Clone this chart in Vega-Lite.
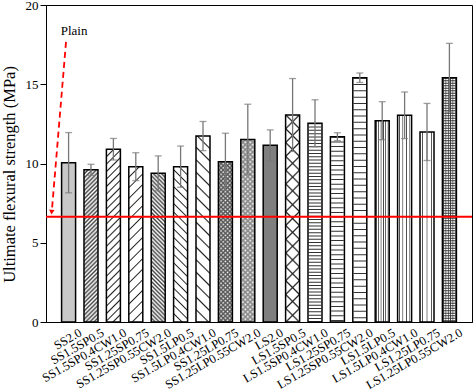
{
"$schema":"https://vega.github.io/schema/vega-lite/v6.json",
"width":426,"height":317,"autosize":"none",
"padding":{"left":46,"top":5,"right":1,"bottom":69},
"datasets":{"bars":[
{"name":"SS2.0","value":10.05,"err":1.9},
{"name":"SS1.5SP0.5","value":9.6,"err":0.35},
{"name":"SS1.5SP0.4CW1.0","value":10.9,"err":0.68},
{"name":"SS1.25SP0.75","value":9.8,"err":0.88},
{"name":"SS1.25SP0.55CW2.0","value":9.38,"err":1.1},
{"name":"SS1.5LP0.5","value":9.8,"err":1.3},
{"name":"SS1.5LP0.4CW1.0","value":11.73,"err":0.92},
{"name":"SS1.25LP0.75","value":10.11,"err":1.8},
{"name":"SS1.25LP0.55CW2.0","value":11.52,"err":2.22},
{"name":"LS2.0","value":11.15,"err":0.97},
{"name":"LS1.5SP0.5","value":13.06,"err":2.3},
{"name":"LS1.5SP0.4CW1.0","value":12.54,"err":1.48},
{"name":"LS1.25SP0.75","value":11.69,"err":0.25},
{"name":"LS1.25SP0.55CW2.0","value":15.41,"err":0.3},
{"name":"LS1.5LP0.5","value":12.7,"err":1.2},
{"name":"LS1.5LP0.4CW1.0","value":13.04,"err":1.47},
{"name":"LS1.25LP0.75","value":11.99,"err":1.8},
{"name":"LS1.25LP0.55CW2.0","value":15.41,"err":2.17}
]},
"config":{
"font":"Liberation Serif",
"view":{"stroke":"black","strokeWidth":1},
"axis":{"labelFont":"Liberation Serif","titleFont":"Liberation Serif","domainColor":"black","tickColor":"black","labelColor":"black","titleColor":"black","grid":false,"titleFontWeight":"normal"}
},
"layer":[
{"data":{"name":"bars"},
"layer":[
{"mark":{"type":"bar"},
"encoding":{
"x":{"field":"name","type":"nominal","sort":null,"scale":{"paddingInner":0.375,"paddingOuter":0.696},"axis":{"title":null,"labelAngle":-30,"labelFontSize":12.5,"ticks":false,"labelPadding":4,"labelOffset":9}},
"y":{"field":"value","type":"quantitative","scale":{"domain":[0,20],"nice":false},"axis":{"title":"Ultimate flexural strength (MPa)","values":[0,5,10,15,20],"labelFontSize":13,"titleFontSize":16.5,"tickSize":6,"labelPadding":2,"titlePadding":8,"titleY":169}},
"fill":{"condition":[
{"test":"datum.name==='SS2.0'","value":"#c8c8c8"},
{"test":"datum.name==='LS2.0'","value":"#7f7f7f"},
{"test":"datum.name==='SS1.5SP0.5'","value":{"gradient":"linear","x1":0,"y1":0,"x2":0.0996,"y2":1.083,"stops":[{"offset":0,"color":"#444"},{"offset":0.0125,"color":"#fff"},{"offset":0.025,"color":"#444"},{"offset":0.0375,"color":"#fff"},{"offset":0.05,"color":"#444"},{"offset":0.0625,"color":"#fff"},{"offset":0.075,"color":"#444"},{"offset":0.0875,"color":"#fff"},{"offset":0.1,"color":"#444"},{"offset":0.1125,"color":"#fff"},{"offset":0.125,"color":"#444"},{"offset":0.1375,"color":"#fff"},{"offset":0.15,"color":"#444"},{"offset":0.1625,"color":"#fff"},{"offset":0.175,"color":"#444"},{"offset":0.1875,"color":"#fff"},{"offset":0.2,"color":"#444"},{"offset":0.2125,"color":"#fff"},{"offset":0.225,"color":"#444"},{"offset":0.2375,"color":"#fff"},{"offset":0.25,"color":"#444"},{"offset":0.2625,"color":"#fff"},{"offset":0.275,"color":"#444"},{"offset":0.2875,"color":"#fff"},{"offset":0.3,"color":"#444"},{"offset":0.3125,"color":"#fff"},{"offset":0.325,"color":"#444"},{"offset":0.3375,"color":"#fff"},{"offset":0.35,"color":"#444"},{"offset":0.3625,"color":"#fff"},{"offset":0.375,"color":"#444"},{"offset":0.3875,"color":"#fff"},{"offset":0.4,"color":"#444"},{"offset":0.4125,"color":"#fff"},{"offset":0.425,"color":"#444"},{"offset":0.4375,"color":"#fff"},{"offset":0.45,"color":"#444"},{"offset":0.4625,"color":"#fff"},{"offset":0.475,"color":"#444"},{"offset":0.4875,"color":"#fff"},{"offset":0.5,"color":"#444"},{"offset":0.5125,"color":"#fff"},{"offset":0.525,"color":"#444"},{"offset":0.5375,"color":"#fff"},{"offset":0.55,"color":"#444"},{"offset":0.5625,"color":"#fff"},{"offset":0.575,"color":"#444"},{"offset":0.5875,"color":"#fff"},{"offset":0.6,"color":"#444"},{"offset":0.6125,"color":"#fff"},{"offset":0.625,"color":"#444"},{"offset":0.6375,"color":"#fff"},{"offset":0.65,"color":"#444"},{"offset":0.6625,"color":"#fff"},{"offset":0.675,"color":"#444"},{"offset":0.6875,"color":"#fff"},{"offset":0.7,"color":"#444"},{"offset":0.7125,"color":"#fff"},{"offset":0.725,"color":"#444"},{"offset":0.7375,"color":"#fff"},{"offset":0.75,"color":"#444"},{"offset":0.7625,"color":"#fff"},{"offset":0.775,"color":"#444"},{"offset":0.7875,"color":"#fff"},{"offset":0.8,"color":"#444"},{"offset":0.8125,"color":"#fff"},{"offset":0.825,"color":"#444"},{"offset":0.8375,"color":"#fff"},{"offset":0.85,"color":"#444"},{"offset":0.8625,"color":"#fff"},{"offset":0.875,"color":"#444"},{"offset":0.8875,"color":"#fff"},{"offset":0.9,"color":"#444"},{"offset":0.9125,"color":"#fff"},{"offset":0.925,"color":"#444"},{"offset":0.9375,"color":"#fff"},{"offset":0.95,"color":"#444"},{"offset":0.9625,"color":"#fff"},{"offset":0.975,"color":"#444"},{"offset":0.9875,"color":"#fff"},{"offset":1,"color":"#444"}]}},
{"test":"datum.name==='SS1.5SP0.4CW1.0'","value":{"gradient":"linear","x1":0,"y1":0,"x2":0.087,"y2":1.074,"stops":[{"offset":0,"color":"#222"},{"offset":0.008,"color":"#fff"},{"offset":0.032,"color":"#fff"},{"offset":0.04,"color":"#222"},{"offset":0.048,"color":"#fff"},{"offset":0.072,"color":"#fff"},{"offset":0.08,"color":"#222"},{"offset":0.088,"color":"#fff"},{"offset":0.112,"color":"#fff"},{"offset":0.12,"color":"#222"},{"offset":0.128,"color":"#fff"},{"offset":0.152,"color":"#fff"},{"offset":0.16,"color":"#222"},{"offset":0.168,"color":"#fff"},{"offset":0.192,"color":"#fff"},{"offset":0.2,"color":"#222"},{"offset":0.208,"color":"#fff"},{"offset":0.232,"color":"#fff"},{"offset":0.24,"color":"#222"},{"offset":0.248,"color":"#fff"},{"offset":0.272,"color":"#fff"},{"offset":0.28,"color":"#222"},{"offset":0.288,"color":"#fff"},{"offset":0.312,"color":"#fff"},{"offset":0.32,"color":"#222"},{"offset":0.328,"color":"#fff"},{"offset":0.352,"color":"#fff"},{"offset":0.36,"color":"#222"},{"offset":0.368,"color":"#fff"},{"offset":0.392,"color":"#fff"},{"offset":0.4,"color":"#222"},{"offset":0.408,"color":"#fff"},{"offset":0.432,"color":"#fff"},{"offset":0.44,"color":"#222"},{"offset":0.448,"color":"#fff"},{"offset":0.472,"color":"#fff"},{"offset":0.48,"color":"#222"},{"offset":0.488,"color":"#fff"},{"offset":0.512,"color":"#fff"},{"offset":0.52,"color":"#222"},{"offset":0.528,"color":"#fff"},{"offset":0.552,"color":"#fff"},{"offset":0.56,"color":"#222"},{"offset":0.568,"color":"#fff"},{"offset":0.592,"color":"#fff"},{"offset":0.6,"color":"#222"},{"offset":0.608,"color":"#fff"},{"offset":0.632,"color":"#fff"},{"offset":0.64,"color":"#222"},{"offset":0.648,"color":"#fff"},{"offset":0.672,"color":"#fff"},{"offset":0.68,"color":"#222"},{"offset":0.688,"color":"#fff"},{"offset":0.712,"color":"#fff"},{"offset":0.72,"color":"#222"},{"offset":0.728,"color":"#fff"},{"offset":0.752,"color":"#fff"},{"offset":0.76,"color":"#222"},{"offset":0.768,"color":"#fff"},{"offset":0.792,"color":"#fff"},{"offset":0.8,"color":"#222"},{"offset":0.808,"color":"#fff"},{"offset":0.832,"color":"#fff"},{"offset":0.84,"color":"#222"},{"offset":0.848,"color":"#fff"},{"offset":0.872,"color":"#fff"},{"offset":0.88,"color":"#222"},{"offset":0.888,"color":"#fff"},{"offset":0.912,"color":"#fff"},{"offset":0.92,"color":"#222"},{"offset":0.928,"color":"#fff"},{"offset":0.952,"color":"#fff"},{"offset":0.96,"color":"#222"},{"offset":0.968,"color":"#fff"},{"offset":0.992,"color":"#fff"},{"offset":1,"color":"#222"}]}},
{"test":"datum.name==='SS1.25SP0.75'","value":{"gradient":"linear","x1":0,"y1":0,"x2":0.0973,"y2":1.081,"stops":[{"offset":0,"color":"#222"},{"offset":0.008,"color":"#fff"},{"offset":0.0545,"color":"#fff"},{"offset":0.0625,"color":"#222"},{"offset":0.0705,"color":"#fff"},{"offset":0.117,"color":"#fff"},{"offset":0.125,"color":"#222"},{"offset":0.133,"color":"#fff"},{"offset":0.1795,"color":"#fff"},{"offset":0.1875,"color":"#222"},{"offset":0.1955,"color":"#fff"},{"offset":0.242,"color":"#fff"},{"offset":0.25,"color":"#222"},{"offset":0.258,"color":"#fff"},{"offset":0.3045,"color":"#fff"},{"offset":0.3125,"color":"#222"},{"offset":0.3205,"color":"#fff"},{"offset":0.367,"color":"#fff"},{"offset":0.375,"color":"#222"},{"offset":0.383,"color":"#fff"},{"offset":0.4295,"color":"#fff"},{"offset":0.4375,"color":"#222"},{"offset":0.4455,"color":"#fff"},{"offset":0.492,"color":"#fff"},{"offset":0.5,"color":"#222"},{"offset":0.508,"color":"#fff"},{"offset":0.5545,"color":"#fff"},{"offset":0.5625,"color":"#222"},{"offset":0.5705,"color":"#fff"},{"offset":0.617,"color":"#fff"},{"offset":0.625,"color":"#222"},{"offset":0.633,"color":"#fff"},{"offset":0.6795,"color":"#fff"},{"offset":0.6875,"color":"#222"},{"offset":0.6955,"color":"#fff"},{"offset":0.742,"color":"#fff"},{"offset":0.75,"color":"#222"},{"offset":0.758,"color":"#fff"},{"offset":0.8045,"color":"#fff"},{"offset":0.8125,"color":"#222"},{"offset":0.8205,"color":"#fff"},{"offset":0.867,"color":"#fff"},{"offset":0.875,"color":"#222"},{"offset":0.883,"color":"#fff"},{"offset":0.9295,"color":"#fff"},{"offset":0.9375,"color":"#222"},{"offset":0.9455,"color":"#fff"},{"offset":0.992,"color":"#fff"},{"offset":1,"color":"#222"}]}},
{"test":"datum.name==='SS1.25SP0.55CW2.0'","value":{"gradient":"linear","x1":1,"y1":0,"x2":0.898,"y2":1.084,"stops":[{"offset":0,"color":"#444"},{"offset":0.0125,"color":"#fff"},{"offset":0.025,"color":"#444"},{"offset":0.0375,"color":"#fff"},{"offset":0.05,"color":"#444"},{"offset":0.0625,"color":"#fff"},{"offset":0.075,"color":"#444"},{"offset":0.0875,"color":"#fff"},{"offset":0.1,"color":"#444"},{"offset":0.1125,"color":"#fff"},{"offset":0.125,"color":"#444"},{"offset":0.1375,"color":"#fff"},{"offset":0.15,"color":"#444"},{"offset":0.1625,"color":"#fff"},{"offset":0.175,"color":"#444"},{"offset":0.1875,"color":"#fff"},{"offset":0.2,"color":"#444"},{"offset":0.2125,"color":"#fff"},{"offset":0.225,"color":"#444"},{"offset":0.2375,"color":"#fff"},{"offset":0.25,"color":"#444"},{"offset":0.2625,"color":"#fff"},{"offset":0.275,"color":"#444"},{"offset":0.2875,"color":"#fff"},{"offset":0.3,"color":"#444"},{"offset":0.3125,"color":"#fff"},{"offset":0.325,"color":"#444"},{"offset":0.3375,"color":"#fff"},{"offset":0.35,"color":"#444"},{"offset":0.3625,"color":"#fff"},{"offset":0.375,"color":"#444"},{"offset":0.3875,"color":"#fff"},{"offset":0.4,"color":"#444"},{"offset":0.4125,"color":"#fff"},{"offset":0.425,"color":"#444"},{"offset":0.4375,"color":"#fff"},{"offset":0.45,"color":"#444"},{"offset":0.4625,"color":"#fff"},{"offset":0.475,"color":"#444"},{"offset":0.4875,"color":"#fff"},{"offset":0.5,"color":"#444"},{"offset":0.5125,"color":"#fff"},{"offset":0.525,"color":"#444"},{"offset":0.5375,"color":"#fff"},{"offset":0.55,"color":"#444"},{"offset":0.5625,"color":"#fff"},{"offset":0.575,"color":"#444"},{"offset":0.5875,"color":"#fff"},{"offset":0.6,"color":"#444"},{"offset":0.6125,"color":"#fff"},{"offset":0.625,"color":"#444"},{"offset":0.6375,"color":"#fff"},{"offset":0.65,"color":"#444"},{"offset":0.6625,"color":"#fff"},{"offset":0.675,"color":"#444"},{"offset":0.6875,"color":"#fff"},{"offset":0.7,"color":"#444"},{"offset":0.7125,"color":"#fff"},{"offset":0.725,"color":"#444"},{"offset":0.7375,"color":"#fff"},{"offset":0.75,"color":"#444"},{"offset":0.7625,"color":"#fff"},{"offset":0.775,"color":"#444"},{"offset":0.7875,"color":"#fff"},{"offset":0.8,"color":"#444"},{"offset":0.8125,"color":"#fff"},{"offset":0.825,"color":"#444"},{"offset":0.8375,"color":"#fff"},{"offset":0.85,"color":"#444"},{"offset":0.8625,"color":"#fff"},{"offset":0.875,"color":"#444"},{"offset":0.8875,"color":"#fff"},{"offset":0.9,"color":"#444"},{"offset":0.9125,"color":"#fff"},{"offset":0.925,"color":"#444"},{"offset":0.9375,"color":"#fff"},{"offset":0.95,"color":"#444"},{"offset":0.9625,"color":"#fff"},{"offset":0.975,"color":"#444"},{"offset":0.9875,"color":"#fff"},{"offset":1,"color":"#444"}]}},
{"test":"datum.name==='SS1.5LP0.5'","value":{"gradient":"linear","x1":1,"y1":0,"x2":0.903,"y2":1.081,"stops":[{"offset":0,"color":"#222"},{"offset":0.008,"color":"#fff"},{"offset":0.042,"color":"#fff"},{"offset":0.05,"color":"#222"},{"offset":0.058,"color":"#fff"},{"offset":0.092,"color":"#fff"},{"offset":0.1,"color":"#222"},{"offset":0.108,"color":"#fff"},{"offset":0.142,"color":"#fff"},{"offset":0.15,"color":"#222"},{"offset":0.158,"color":"#fff"},{"offset":0.192,"color":"#fff"},{"offset":0.2,"color":"#222"},{"offset":0.208,"color":"#fff"},{"offset":0.242,"color":"#fff"},{"offset":0.25,"color":"#222"},{"offset":0.258,"color":"#fff"},{"offset":0.292,"color":"#fff"},{"offset":0.3,"color":"#222"},{"offset":0.308,"color":"#fff"},{"offset":0.342,"color":"#fff"},{"offset":0.35,"color":"#222"},{"offset":0.358,"color":"#fff"},{"offset":0.392,"color":"#fff"},{"offset":0.4,"color":"#222"},{"offset":0.408,"color":"#fff"},{"offset":0.442,"color":"#fff"},{"offset":0.45,"color":"#222"},{"offset":0.458,"color":"#fff"},{"offset":0.492,"color":"#fff"},{"offset":0.5,"color":"#222"},{"offset":0.508,"color":"#fff"},{"offset":0.542,"color":"#fff"},{"offset":0.55,"color":"#222"},{"offset":0.558,"color":"#fff"},{"offset":0.592,"color":"#fff"},{"offset":0.6,"color":"#222"},{"offset":0.608,"color":"#fff"},{"offset":0.642,"color":"#fff"},{"offset":0.65,"color":"#222"},{"offset":0.658,"color":"#fff"},{"offset":0.692,"color":"#fff"},{"offset":0.7,"color":"#222"},{"offset":0.708,"color":"#fff"},{"offset":0.742,"color":"#fff"},{"offset":0.75,"color":"#222"},{"offset":0.758,"color":"#fff"},{"offset":0.792,"color":"#fff"},{"offset":0.8,"color":"#222"},{"offset":0.808,"color":"#fff"},{"offset":0.842,"color":"#fff"},{"offset":0.85,"color":"#222"},{"offset":0.858,"color":"#fff"},{"offset":0.892,"color":"#fff"},{"offset":0.9,"color":"#222"},{"offset":0.908,"color":"#fff"},{"offset":0.942,"color":"#fff"},{"offset":0.95,"color":"#222"},{"offset":0.958,"color":"#fff"},{"offset":0.992,"color":"#fff"},{"offset":1,"color":"#222"}]}},
{"test":"datum.name==='SS1.5LP0.4CW1.0'","value":{"gradient":"linear","x1":1,"y1":0,"x2":0.92,"y2":1.069,"stops":[{"offset":0,"color":"#222"},{"offset":0.008,"color":"#fff"},{"offset":0.0545,"color":"#fff"},{"offset":0.0625,"color":"#222"},{"offset":0.0705,"color":"#fff"},{"offset":0.117,"color":"#fff"},{"offset":0.125,"color":"#222"},{"offset":0.133,"color":"#fff"},{"offset":0.1795,"color":"#fff"},{"offset":0.1875,"color":"#222"},{"offset":0.1955,"color":"#fff"},{"offset":0.242,"color":"#fff"},{"offset":0.25,"color":"#222"},{"offset":0.258,"color":"#fff"},{"offset":0.3045,"color":"#fff"},{"offset":0.3125,"color":"#222"},{"offset":0.3205,"color":"#fff"},{"offset":0.367,"color":"#fff"},{"offset":0.375,"color":"#222"},{"offset":0.383,"color":"#fff"},{"offset":0.4295,"color":"#fff"},{"offset":0.4375,"color":"#222"},{"offset":0.4455,"color":"#fff"},{"offset":0.492,"color":"#fff"},{"offset":0.5,"color":"#222"},{"offset":0.508,"color":"#fff"},{"offset":0.5545,"color":"#fff"},{"offset":0.5625,"color":"#222"},{"offset":0.5705,"color":"#fff"},{"offset":0.617,"color":"#fff"},{"offset":0.625,"color":"#222"},{"offset":0.633,"color":"#fff"},{"offset":0.6795,"color":"#fff"},{"offset":0.6875,"color":"#222"},{"offset":0.6955,"color":"#fff"},{"offset":0.742,"color":"#fff"},{"offset":0.75,"color":"#222"},{"offset":0.758,"color":"#fff"},{"offset":0.8045,"color":"#fff"},{"offset":0.8125,"color":"#222"},{"offset":0.8205,"color":"#fff"},{"offset":0.867,"color":"#fff"},{"offset":0.875,"color":"#222"},{"offset":0.883,"color":"#fff"},{"offset":0.9295,"color":"#fff"},{"offset":0.9375,"color":"#222"},{"offset":0.9455,"color":"#fff"},{"offset":0.992,"color":"#fff"},{"offset":1,"color":"#222"}]}},
{"test":"datum.name==='SS1.25LP0.75'","value":{"gradient":"linear","x1":0,"y1":0,"x2":0.0939,"y2":1.079,"stops":[{"offset":0,"color":"#555"},{"offset":0.0125,"color":"#fff"},{"offset":0.025,"color":"#555"},{"offset":0.0375,"color":"#fff"},{"offset":0.05,"color":"#555"},{"offset":0.0625,"color":"#fff"},{"offset":0.075,"color":"#555"},{"offset":0.0875,"color":"#fff"},{"offset":0.1,"color":"#555"},{"offset":0.1125,"color":"#fff"},{"offset":0.125,"color":"#555"},{"offset":0.1375,"color":"#fff"},{"offset":0.15,"color":"#555"},{"offset":0.1625,"color":"#fff"},{"offset":0.175,"color":"#555"},{"offset":0.1875,"color":"#fff"},{"offset":0.2,"color":"#555"},{"offset":0.2125,"color":"#fff"},{"offset":0.225,"color":"#555"},{"offset":0.2375,"color":"#fff"},{"offset":0.25,"color":"#555"},{"offset":0.2625,"color":"#fff"},{"offset":0.275,"color":"#555"},{"offset":0.2875,"color":"#fff"},{"offset":0.3,"color":"#555"},{"offset":0.3125,"color":"#fff"},{"offset":0.325,"color":"#555"},{"offset":0.3375,"color":"#fff"},{"offset":0.35,"color":"#555"},{"offset":0.3625,"color":"#fff"},{"offset":0.375,"color":"#555"},{"offset":0.3875,"color":"#fff"},{"offset":0.4,"color":"#555"},{"offset":0.4125,"color":"#fff"},{"offset":0.425,"color":"#555"},{"offset":0.4375,"color":"#fff"},{"offset":0.45,"color":"#555"},{"offset":0.4625,"color":"#fff"},{"offset":0.475,"color":"#555"},{"offset":0.4875,"color":"#fff"},{"offset":0.5,"color":"#555"},{"offset":0.5125,"color":"#fff"},{"offset":0.525,"color":"#555"},{"offset":0.5375,"color":"#fff"},{"offset":0.55,"color":"#555"},{"offset":0.5625,"color":"#fff"},{"offset":0.575,"color":"#555"},{"offset":0.5875,"color":"#fff"},{"offset":0.6,"color":"#555"},{"offset":0.6125,"color":"#fff"},{"offset":0.625,"color":"#555"},{"offset":0.6375,"color":"#fff"},{"offset":0.65,"color":"#555"},{"offset":0.6625,"color":"#fff"},{"offset":0.675,"color":"#555"},{"offset":0.6875,"color":"#fff"},{"offset":0.7,"color":"#555"},{"offset":0.7125,"color":"#fff"},{"offset":0.725,"color":"#555"},{"offset":0.7375,"color":"#fff"},{"offset":0.75,"color":"#555"},{"offset":0.7625,"color":"#fff"},{"offset":0.775,"color":"#555"},{"offset":0.7875,"color":"#fff"},{"offset":0.8,"color":"#555"},{"offset":0.8125,"color":"#fff"},{"offset":0.825,"color":"#555"},{"offset":0.8375,"color":"#fff"},{"offset":0.85,"color":"#555"},{"offset":0.8625,"color":"#fff"},{"offset":0.875,"color":"#555"},{"offset":0.8875,"color":"#fff"},{"offset":0.9,"color":"#555"},{"offset":0.9125,"color":"#fff"},{"offset":0.925,"color":"#555"},{"offset":0.9375,"color":"#fff"},{"offset":0.95,"color":"#555"},{"offset":0.9625,"color":"#fff"},{"offset":0.975,"color":"#555"},{"offset":0.9875,"color":"#fff"},{"offset":1,"color":"#555"}]}},
{"test":"datum.name==='SS1.25LP0.55CW2.0'","value":{"gradient":"linear","x1":0,"y1":0,"x2":0.0824,"y2":1.071,"stops":[{"offset":0,"color":"#888"},{"offset":0.0125,"color":"#fff"},{"offset":0.025,"color":"#888"},{"offset":0.0375,"color":"#fff"},{"offset":0.05,"color":"#888"},{"offset":0.0625,"color":"#fff"},{"offset":0.075,"color":"#888"},{"offset":0.0875,"color":"#fff"},{"offset":0.1,"color":"#888"},{"offset":0.1125,"color":"#fff"},{"offset":0.125,"color":"#888"},{"offset":0.1375,"color":"#fff"},{"offset":0.15,"color":"#888"},{"offset":0.1625,"color":"#fff"},{"offset":0.175,"color":"#888"},{"offset":0.1875,"color":"#fff"},{"offset":0.2,"color":"#888"},{"offset":0.2125,"color":"#fff"},{"offset":0.225,"color":"#888"},{"offset":0.2375,"color":"#fff"},{"offset":0.25,"color":"#888"},{"offset":0.2625,"color":"#fff"},{"offset":0.275,"color":"#888"},{"offset":0.2875,"color":"#fff"},{"offset":0.3,"color":"#888"},{"offset":0.3125,"color":"#fff"},{"offset":0.325,"color":"#888"},{"offset":0.3375,"color":"#fff"},{"offset":0.35,"color":"#888"},{"offset":0.3625,"color":"#fff"},{"offset":0.375,"color":"#888"},{"offset":0.3875,"color":"#fff"},{"offset":0.4,"color":"#888"},{"offset":0.4125,"color":"#fff"},{"offset":0.425,"color":"#888"},{"offset":0.4375,"color":"#fff"},{"offset":0.45,"color":"#888"},{"offset":0.4625,"color":"#fff"},{"offset":0.475,"color":"#888"},{"offset":0.4875,"color":"#fff"},{"offset":0.5,"color":"#888"},{"offset":0.5125,"color":"#fff"},{"offset":0.525,"color":"#888"},{"offset":0.5375,"color":"#fff"},{"offset":0.55,"color":"#888"},{"offset":0.5625,"color":"#fff"},{"offset":0.575,"color":"#888"},{"offset":0.5875,"color":"#fff"},{"offset":0.6,"color":"#888"},{"offset":0.6125,"color":"#fff"},{"offset":0.625,"color":"#888"},{"offset":0.6375,"color":"#fff"},{"offset":0.65,"color":"#888"},{"offset":0.6625,"color":"#fff"},{"offset":0.675,"color":"#888"},{"offset":0.6875,"color":"#fff"},{"offset":0.7,"color":"#888"},{"offset":0.7125,"color":"#fff"},{"offset":0.725,"color":"#888"},{"offset":0.7375,"color":"#fff"},{"offset":0.75,"color":"#888"},{"offset":0.7625,"color":"#fff"},{"offset":0.775,"color":"#888"},{"offset":0.7875,"color":"#fff"},{"offset":0.8,"color":"#888"},{"offset":0.8125,"color":"#fff"},{"offset":0.825,"color":"#888"},{"offset":0.8375,"color":"#fff"},{"offset":0.85,"color":"#888"},{"offset":0.8625,"color":"#fff"},{"offset":0.875,"color":"#888"},{"offset":0.8875,"color":"#fff"},{"offset":0.9,"color":"#888"},{"offset":0.9125,"color":"#fff"},{"offset":0.925,"color":"#888"},{"offset":0.9375,"color":"#fff"},{"offset":0.95,"color":"#888"},{"offset":0.9625,"color":"#fff"},{"offset":0.975,"color":"#888"},{"offset":0.9875,"color":"#fff"},{"offset":1,"color":"#888"}]}},
{"test":"datum.name==='LS1.5SP0.5'","value":{"gradient":"linear","x1":0,"y1":0,"x2":0.0723,"y2":1.063,"stops":[{"offset":0,"color":"#222"},{"offset":0.008,"color":"#fff"},{"offset":0.0545,"color":"#fff"},{"offset":0.0625,"color":"#222"},{"offset":0.0705,"color":"#fff"},{"offset":0.117,"color":"#fff"},{"offset":0.125,"color":"#222"},{"offset":0.133,"color":"#fff"},{"offset":0.1795,"color":"#fff"},{"offset":0.1875,"color":"#222"},{"offset":0.1955,"color":"#fff"},{"offset":0.242,"color":"#fff"},{"offset":0.25,"color":"#222"},{"offset":0.258,"color":"#fff"},{"offset":0.3045,"color":"#fff"},{"offset":0.3125,"color":"#222"},{"offset":0.3205,"color":"#fff"},{"offset":0.367,"color":"#fff"},{"offset":0.375,"color":"#222"},{"offset":0.383,"color":"#fff"},{"offset":0.4295,"color":"#fff"},{"offset":0.4375,"color":"#222"},{"offset":0.4455,"color":"#fff"},{"offset":0.492,"color":"#fff"},{"offset":0.5,"color":"#222"},{"offset":0.508,"color":"#fff"},{"offset":0.5545,"color":"#fff"},{"offset":0.5625,"color":"#222"},{"offset":0.5705,"color":"#fff"},{"offset":0.617,"color":"#fff"},{"offset":0.625,"color":"#222"},{"offset":0.633,"color":"#fff"},{"offset":0.6795,"color":"#fff"},{"offset":0.6875,"color":"#222"},{"offset":0.6955,"color":"#fff"},{"offset":0.742,"color":"#fff"},{"offset":0.75,"color":"#222"},{"offset":0.758,"color":"#fff"},{"offset":0.8045,"color":"#fff"},{"offset":0.8125,"color":"#222"},{"offset":0.8205,"color":"#fff"},{"offset":0.867,"color":"#fff"},{"offset":0.875,"color":"#222"},{"offset":0.883,"color":"#fff"},{"offset":0.9295,"color":"#fff"},{"offset":0.9375,"color":"#222"},{"offset":0.9455,"color":"#fff"},{"offset":0.992,"color":"#fff"},{"offset":1,"color":"#222"}]}},
{"test":"datum.name==='LS1.5LP0.5'","value":{"gradient":"linear","x1":0,"y1":0,"x2":1,"y2":0,"stops":[{"offset":0.0333,"color":"#fff"},{"offset":0.0833,"color":"#222"},{"offset":0.1333,"color":"#fff"},{"offset":0.2,"color":"#fff"},{"offset":0.25,"color":"#222"},{"offset":0.3,"color":"#fff"},{"offset":0.3667,"color":"#fff"},{"offset":0.4167,"color":"#222"},{"offset":0.4667,"color":"#fff"},{"offset":0.5333,"color":"#fff"},{"offset":0.5833,"color":"#222"},{"offset":0.6333,"color":"#fff"},{"offset":0.7,"color":"#fff"},{"offset":0.75,"color":"#222"},{"offset":0.8,"color":"#fff"},{"offset":0.8667,"color":"#fff"},{"offset":0.9167,"color":"#222"},{"offset":0.9667,"color":"#fff"}]}},
{"test":"datum.name==='LS1.5LP0.4CW1.0'","value":{"gradient":"linear","x1":0,"y1":0,"x2":1,"y2":0,"stops":[{"offset":0.075,"color":"#fff"},{"offset":0.125,"color":"#222"},{"offset":0.175,"color":"#fff"},{"offset":0.325,"color":"#fff"},{"offset":0.375,"color":"#222"},{"offset":0.425,"color":"#fff"},{"offset":0.575,"color":"#fff"},{"offset":0.625,"color":"#222"},{"offset":0.675,"color":"#fff"},{"offset":0.825,"color":"#fff"},{"offset":0.875,"color":"#222"},{"offset":0.925,"color":"#fff"}]}},
{"test":"datum.name==='LS1.25LP0.75'","value":{"gradient":"linear","x1":0,"y1":0,"x2":1,"y2":0,"stops":[{"offset":0.1167,"color":"#fff"},{"offset":0.1667,"color":"#222"},{"offset":0.2167,"color":"#fff"},{"offset":0.45,"color":"#fff"},{"offset":0.5,"color":"#222"},{"offset":0.55,"color":"#fff"},{"offset":0.7833,"color":"#fff"},{"offset":0.8333,"color":"#222"},{"offset":0.8833,"color":"#fff"}]}},
{"test":"datum.name==='LS1.25LP0.55CW2.0'","value":{"gradient":"linear","x1":0,"y1":0,"x2":1,"y2":0,"stops":[{"offset":0.0333,"color":"#fff"},{"offset":0.0833,"color":"#333"},{"offset":0.1333,"color":"#fff"},{"offset":0.2,"color":"#fff"},{"offset":0.25,"color":"#333"},{"offset":0.3,"color":"#fff"},{"offset":0.3667,"color":"#fff"},{"offset":0.4167,"color":"#333"},{"offset":0.4667,"color":"#fff"},{"offset":0.5333,"color":"#fff"},{"offset":0.5833,"color":"#333"},{"offset":0.6333,"color":"#fff"},{"offset":0.7,"color":"#fff"},{"offset":0.75,"color":"#333"},{"offset":0.8,"color":"#fff"},{"offset":0.8667,"color":"#fff"},{"offset":0.9167,"color":"#333"},{"offset":0.9667,"color":"#fff"}]}}
],"value":"#fff"}
}},
{"transform":[{"filter":{"field":"name","oneOf":["SS1.25LP0.75","SS1.25LP0.55CW2.0","LS1.5SP0.5"]}}],
"mark":{"type":"bar"},
"encoding":{
"x":{"field":"name","type":"nominal","sort":null},
"y":{"field":"value","type":"quantitative","title":"Ultimate flexural strength (MPa)"},
"fill":{"condition":[
{"test":"datum.name==='SS1.25LP0.75'","value":{"gradient":"linear","x1":1,"y1":0,"x2":0.906,"y2":1.079,"stops":[{"offset":0,"color":"#555"},{"offset":0.0125,"color":"#5550"},{"offset":0.025,"color":"#555"},{"offset":0.0375,"color":"#5550"},{"offset":0.05,"color":"#555"},{"offset":0.0625,"color":"#5550"},{"offset":0.075,"color":"#555"},{"offset":0.0875,"color":"#5550"},{"offset":0.1,"color":"#555"},{"offset":0.1125,"color":"#5550"},{"offset":0.125,"color":"#555"},{"offset":0.1375,"color":"#5550"},{"offset":0.15,"color":"#555"},{"offset":0.1625,"color":"#5550"},{"offset":0.175,"color":"#555"},{"offset":0.1875,"color":"#5550"},{"offset":0.2,"color":"#555"},{"offset":0.2125,"color":"#5550"},{"offset":0.225,"color":"#555"},{"offset":0.2375,"color":"#5550"},{"offset":0.25,"color":"#555"},{"offset":0.2625,"color":"#5550"},{"offset":0.275,"color":"#555"},{"offset":0.2875,"color":"#5550"},{"offset":0.3,"color":"#555"},{"offset":0.3125,"color":"#5550"},{"offset":0.325,"color":"#555"},{"offset":0.3375,"color":"#5550"},{"offset":0.35,"color":"#555"},{"offset":0.3625,"color":"#5550"},{"offset":0.375,"color":"#555"},{"offset":0.3875,"color":"#5550"},{"offset":0.4,"color":"#555"},{"offset":0.4125,"color":"#5550"},{"offset":0.425,"color":"#555"},{"offset":0.4375,"color":"#5550"},{"offset":0.45,"color":"#555"},{"offset":0.4625,"color":"#5550"},{"offset":0.475,"color":"#555"},{"offset":0.4875,"color":"#5550"},{"offset":0.5,"color":"#555"},{"offset":0.5125,"color":"#5550"},{"offset":0.525,"color":"#555"},{"offset":0.5375,"color":"#5550"},{"offset":0.55,"color":"#555"},{"offset":0.5625,"color":"#5550"},{"offset":0.575,"color":"#555"},{"offset":0.5875,"color":"#5550"},{"offset":0.6,"color":"#555"},{"offset":0.6125,"color":"#5550"},{"offset":0.625,"color":"#555"},{"offset":0.6375,"color":"#5550"},{"offset":0.65,"color":"#555"},{"offset":0.6625,"color":"#5550"},{"offset":0.675,"color":"#555"},{"offset":0.6875,"color":"#5550"},{"offset":0.7,"color":"#555"},{"offset":0.7125,"color":"#5550"},{"offset":0.725,"color":"#555"},{"offset":0.7375,"color":"#5550"},{"offset":0.75,"color":"#555"},{"offset":0.7625,"color":"#5550"},{"offset":0.775,"color":"#555"},{"offset":0.7875,"color":"#5550"},{"offset":0.8,"color":"#555"},{"offset":0.8125,"color":"#5550"},{"offset":0.825,"color":"#555"},{"offset":0.8375,"color":"#5550"},{"offset":0.85,"color":"#555"},{"offset":0.8625,"color":"#5550"},{"offset":0.875,"color":"#555"},{"offset":0.8875,"color":"#5550"},{"offset":0.9,"color":"#555"},{"offset":0.9125,"color":"#5550"},{"offset":0.925,"color":"#555"},{"offset":0.9375,"color":"#5550"},{"offset":0.95,"color":"#555"},{"offset":0.9625,"color":"#5550"},{"offset":0.975,"color":"#555"},{"offset":0.9875,"color":"#5550"},{"offset":1,"color":"#555"}]}},
{"test":"datum.name==='SS1.25LP0.55CW2.0'","value":{"gradient":"linear","x1":1,"y1":0,"x2":0.918,"y2":1.071,"stops":[{"offset":0,"color":"#888"},{"offset":0.0125,"color":"#8880"},{"offset":0.025,"color":"#888"},{"offset":0.0375,"color":"#8880"},{"offset":0.05,"color":"#888"},{"offset":0.0625,"color":"#8880"},{"offset":0.075,"color":"#888"},{"offset":0.0875,"color":"#8880"},{"offset":0.1,"color":"#888"},{"offset":0.1125,"color":"#8880"},{"offset":0.125,"color":"#888"},{"offset":0.1375,"color":"#8880"},{"offset":0.15,"color":"#888"},{"offset":0.1625,"color":"#8880"},{"offset":0.175,"color":"#888"},{"offset":0.1875,"color":"#8880"},{"offset":0.2,"color":"#888"},{"offset":0.2125,"color":"#8880"},{"offset":0.225,"color":"#888"},{"offset":0.2375,"color":"#8880"},{"offset":0.25,"color":"#888"},{"offset":0.2625,"color":"#8880"},{"offset":0.275,"color":"#888"},{"offset":0.2875,"color":"#8880"},{"offset":0.3,"color":"#888"},{"offset":0.3125,"color":"#8880"},{"offset":0.325,"color":"#888"},{"offset":0.3375,"color":"#8880"},{"offset":0.35,"color":"#888"},{"offset":0.3625,"color":"#8880"},{"offset":0.375,"color":"#888"},{"offset":0.3875,"color":"#8880"},{"offset":0.4,"color":"#888"},{"offset":0.4125,"color":"#8880"},{"offset":0.425,"color":"#888"},{"offset":0.4375,"color":"#8880"},{"offset":0.45,"color":"#888"},{"offset":0.4625,"color":"#8880"},{"offset":0.475,"color":"#888"},{"offset":0.4875,"color":"#8880"},{"offset":0.5,"color":"#888"},{"offset":0.5125,"color":"#8880"},{"offset":0.525,"color":"#888"},{"offset":0.5375,"color":"#8880"},{"offset":0.55,"color":"#888"},{"offset":0.5625,"color":"#8880"},{"offset":0.575,"color":"#888"},{"offset":0.5875,"color":"#8880"},{"offset":0.6,"color":"#888"},{"offset":0.6125,"color":"#8880"},{"offset":0.625,"color":"#888"},{"offset":0.6375,"color":"#8880"},{"offset":0.65,"color":"#888"},{"offset":0.6625,"color":"#8880"},{"offset":0.675,"color":"#888"},{"offset":0.6875,"color":"#8880"},{"offset":0.7,"color":"#888"},{"offset":0.7125,"color":"#8880"},{"offset":0.725,"color":"#888"},{"offset":0.7375,"color":"#8880"},{"offset":0.75,"color":"#888"},{"offset":0.7625,"color":"#8880"},{"offset":0.775,"color":"#888"},{"offset":0.7875,"color":"#8880"},{"offset":0.8,"color":"#888"},{"offset":0.8125,"color":"#8880"},{"offset":0.825,"color":"#888"},{"offset":0.8375,"color":"#8880"},{"offset":0.85,"color":"#888"},{"offset":0.8625,"color":"#8880"},{"offset":0.875,"color":"#888"},{"offset":0.8875,"color":"#8880"},{"offset":0.9,"color":"#888"},{"offset":0.9125,"color":"#8880"},{"offset":0.925,"color":"#888"},{"offset":0.9375,"color":"#8880"},{"offset":0.95,"color":"#888"},{"offset":0.9625,"color":"#8880"},{"offset":0.975,"color":"#888"},{"offset":0.9875,"color":"#8880"},{"offset":1,"color":"#888"}]}},
{"test":"datum.name==='LS1.5SP0.5'","value":{"gradient":"linear","x1":1,"y1":0,"x2":0.928,"y2":1.063,"stops":[{"offset":0,"color":"#222"},{"offset":0.008,"color":"#2220"},{"offset":0.0545,"color":"#2220"},{"offset":0.0625,"color":"#222"},{"offset":0.0705,"color":"#2220"},{"offset":0.117,"color":"#2220"},{"offset":0.125,"color":"#222"},{"offset":0.133,"color":"#2220"},{"offset":0.1795,"color":"#2220"},{"offset":0.1875,"color":"#222"},{"offset":0.1955,"color":"#2220"},{"offset":0.242,"color":"#2220"},{"offset":0.25,"color":"#222"},{"offset":0.258,"color":"#2220"},{"offset":0.3045,"color":"#2220"},{"offset":0.3125,"color":"#222"},{"offset":0.3205,"color":"#2220"},{"offset":0.367,"color":"#2220"},{"offset":0.375,"color":"#222"},{"offset":0.383,"color":"#2220"},{"offset":0.4295,"color":"#2220"},{"offset":0.4375,"color":"#222"},{"offset":0.4455,"color":"#2220"},{"offset":0.492,"color":"#2220"},{"offset":0.5,"color":"#222"},{"offset":0.508,"color":"#2220"},{"offset":0.5545,"color":"#2220"},{"offset":0.5625,"color":"#222"},{"offset":0.5705,"color":"#2220"},{"offset":0.617,"color":"#2220"},{"offset":0.625,"color":"#222"},{"offset":0.633,"color":"#2220"},{"offset":0.6795,"color":"#2220"},{"offset":0.6875,"color":"#222"},{"offset":0.6955,"color":"#2220"},{"offset":0.742,"color":"#2220"},{"offset":0.75,"color":"#222"},{"offset":0.758,"color":"#2220"},{"offset":0.8045,"color":"#2220"},{"offset":0.8125,"color":"#222"},{"offset":0.8205,"color":"#2220"},{"offset":0.867,"color":"#2220"},{"offset":0.875,"color":"#222"},{"offset":0.883,"color":"#2220"},{"offset":0.9295,"color":"#2220"},{"offset":0.9375,"color":"#222"},{"offset":0.9455,"color":"#2220"},{"offset":0.992,"color":"#2220"},{"offset":1,"color":"#222"}]}}
],"value":"transparent"}
}},
{"transform":[{"filter":{"field":"name","equal":"LS1.5SP0.4CW1.0"}}],
"mark":{"type":"rule","strokeWidth":12.5,"color":"#333","strokeDash":[1,2.3]},
"encoding":{"x":{"field":"name","type":"nominal","sort":null},"y":{"field":"value","type":"quantitative","title":"Ultimate flexural strength (MPa)"},"y2":{"datum":0}}},
{"transform":[{"filter":{"field":"name","equal":"LS1.25SP0.75"}}],
"mark":{"type":"rule","strokeWidth":12.5,"color":"#333","strokeDash":[1,3.7]},
"encoding":{"x":{"field":"name","type":"nominal","sort":null},"y":{"field":"value","type":"quantitative","title":"Ultimate flexural strength (MPa)"},"y2":{"datum":0}}},
{"transform":[{"filter":{"field":"name","equal":"LS1.25SP0.55CW2.0"}}],
"mark":{"type":"rule","strokeWidth":12.5,"color":"#333","strokeDash":[1,5.3]},
"encoding":{"x":{"field":"name","type":"nominal","sort":null},"y":{"field":"value","type":"quantitative","title":"Ultimate flexural strength (MPa)"},"y2":{"datum":0}}},
{"transform":[{"filter":{"field":"name","equal":"LS1.25LP0.55CW2.0"}}],
"mark":{"type":"rule","strokeWidth":12.5,"color":"#333","strokeDash":[1,1.5]},
"encoding":{"x":{"field":"name","type":"nominal","sort":null},"y":{"field":"value","type":"quantitative","title":"Ultimate flexural strength (MPa)"},"y2":{"datum":0}}},
{"mark":{"type":"bar","fill":"transparent","stroke":"black","strokeWidth":1.5},
"encoding":{
"x":{"field":"name","type":"nominal","sort":null},
"y":{"field":"value","type":"quantitative","title":"Ultimate flexural strength (MPa)"}
}},
{"mark":{"type":"errorbar","ticks":true,"size":7,"thickness":1.3,"color":"#777"},
"encoding":{
"x":{"field":"name","type":"nominal","sort":null},
"y":{"field":"value","type":"quantitative","title":"Ultimate flexural strength (MPa)"},
"yError":{"field":"err"}
}},
{"data":{"values":[{}]},
"mark":{"type":"rule","color":"#ff0000","strokeWidth":2},
"encoding":{"y":{"datum":6.64,"type":"quantitative","title":"Ultimate flexural strength (MPa)"}}}
]},
{"data":{"values":[{}]},
"layer":[
{"mark":{"type":"rule","color":"#ff0000","strokeWidth":1.8,"strokeDash":[6,4]},
"encoding":{
"x":{"datum":0.94,"type":"quantitative","scale":{"domain":[0,19.018]},"axis":null},
"y":{"datum":17.67,"type":"quantitative","title":"Ultimate flexural strength (MPa)"},
"x2":{"datum":0.28},
"y2":{"datum":7.1}
}},
{"mark":{"type":"point","shape":"triangle-down","filled":true,"color":"#ff0000","size":30,"angle":5,"opacity":1},
"encoding":{
"x":{"datum":0.265,"type":"quantitative","axis":null},
"y":{"datum":6.93,"type":"quantitative","title":"Ultimate flexural strength (MPa)"}
}},
{"mark":{"type":"text","text":"Plain","font":"Liberation Serif","fontSize":13,"color":"#000","align":"center","baseline":"middle"},
"encoding":{
"x":{"datum":1.32,"type":"quantitative","axis":null},
"y":{"datum":18.39,"type":"quantitative","title":"Ultimate flexural strength (MPa)"}
}}
]}
],
"resolve":{"scale":{"x":"independent"},"axis":{"x":"independent"}}
}
